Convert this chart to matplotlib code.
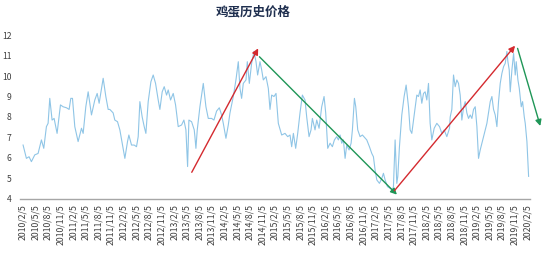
import matplotlib
matplotlib.use("Agg")
from matplotlib import pyplot as plt

plt.rcParams['font.family'] = ['Noto Sans CJK SC', 'DejaVu Sans']

# Monate seit 2010/2/5 und Eierpreis
monate = [0.08, 0.87, 1.5, 2.06, 2.86, 3.65, 4.44, 5.0, 5.63, 6.03, 6.43, 6.98, 7.46, 8.17,
          8.97, 9.6, 10.4, 11.03, 11.43, 11.83, 12.38, 13.17, 13.97, 14.37, 15.0, 15.56,
          16.35, 17.14, 17.7, 18.17, 19.13, 19.76, 20.32, 20.71, 21.5, 21.9, 22.54, 23.1,
          23.65, 24.29, 24.92, 25.24, 25.87, 26.5, 27.06, 27.46, 27.86, 28.41, 28.89, 29.29,
          29.84, 30.48, 31.03, 31.59, 32.22, 32.62, 33.17, 33.65, 34.21, 34.6, 35.16, 35.79,
          36.35, 36.98, 37.78, 38.33, 38.81, 39.21, 39.52, 40.16, 40.79, 40.95, 41.19, 41.51,
          42.14, 42.94, 43.57, 44.13, 44.92, 45.48, 46.11, 46.75, 47.3, 47.7, 48.33, 48.89,
          49.29, 49.68, 50.08, 50.71, 51.27, 51.67, 52.06, 52.46, 53.1, 53.41, 53.89, 54.44,
          55.0, 55.48, 55.87, 56.43, 56.83, 57.22, 57.86, 58.41, 58.81, 59.21, 59.76, 60.24,
          60.79, 61.59, 62.38, 63.02, 63.57, 63.97, 64.37, 64.92, 65.4, 65.95, 66.51, 67.14,
          67.54, 68.1, 68.57, 68.89, 69.52, 69.92, 70.48, 71.11, 71.67, 72.06, 72.54, 73.1,
          73.65, 74.13, 74.68, 75.08, 75.48, 75.87, 76.27, 76.67, 77.06, 77.62, 78.1, 78.41,
          78.89, 79.21, 79.68, 80.24, 80.79, 81.83, 82.46, 83.02, 83.41, 83.81, 84.21, 84.84,
          85.4, 85.79, 86.19, 86.75, 87.38, 87.94, 88.17, 88.57, 88.97, 89.21, 89.6, 90.16,
          90.71, 91.19, 91.75, 92.14, 92.54, 92.94, 93.33, 93.73, 94.13, 94.52, 94.92, 95.32,
          95.71, 96.11, 96.51, 96.9, 97.3, 97.86, 98.49, 99.13, 99.68, 100.24, 100.87, 101.51,
          101.67, 102.06, 102.46, 102.86, 103.25, 103.65, 104.05, 104.44, 104.84, 105.24,
          105.63, 106.03, 106.43, 106.83, 107.22, 107.62, 108.02, 108.41, 108.81, 109.21,
          109.6, 110.0, 110.4, 110.79, 111.19, 111.59, 111.98, 112.38, 112.78, 113.17, 113.57,
          113.97, 114.37, 114.76, 115.16, 115.4, 115.71, 115.95, 116.35, 116.75, 117.14,
          117.38, 117.78, 118.1, 118.57, 118.89, 119.29, 119.52, 119.92, 120.32]
preis = [6.63, 5.98, 6.06, 5.82, 6.15, 6.22, 6.88, 6.47, 7.53, 7.69, 8.91, 7.85, 7.93, 7.2,
         8.59, 8.5, 8.45, 8.37, 8.91, 8.91, 7.53, 6.8, 7.45, 7.2, 8.5, 9.23,
         8.1, 8.83, 9.15, 8.67, 9.89, 9.0, 8.37, 8.37, 8.2, 7.85, 7.77, 7.37,
         6.72, 5.98, 6.8, 7.12, 6.63, 6.63, 6.55, 7.04, 8.75, 8.0, 7.53, 7.2,
         8.75, 9.72, 10.05, 9.64, 8.83, 8.37, 9.23, 9.48, 9.07, 9.32, 8.83, 9.15,
         8.59, 7.53, 7.61, 7.85, 7.37, 5.58, 7.85, 7.77, 7.37, 7.04, 6.47, 7.37,
         8.5, 9.64, 8.5, 7.93, 7.93, 7.85, 8.29, 8.45, 8.1, 7.69, 6.96, 7.61,
         8.2, 8.59, 9.0, 9.81, 10.7, 9.4, 8.91, 9.64, 9.81, 10.7, 9.64, 10.62,
         11.2, 10.7, 10.05, 10.7, 10.3, 9.81, 9.97, 9.4, 8.37, 9.07, 9.0, 9.15,
         7.69, 7.12, 7.2, 7.04, 7.12, 6.55, 7.2, 6.47, 7.2, 8.2, 9.07, 8.83,
         8.0, 7.04, 7.37, 7.93, 7.37, 7.85, 7.45, 8.5, 9.0, 8.2, 6.47, 6.72,
         6.55, 6.88, 7.04, 6.88, 7.12, 6.72, 6.88, 5.98, 6.63, 6.39, 6.72, 7.37,
         8.91, 8.5, 7.37, 7.04, 7.12, 6.88, 6.55, 6.22, 6.06, 5.41, 4.93, 4.76,
         5.0, 5.25, 4.93, 4.6, 4.52, 4.44, 4.6, 6.88, 4.76, 5.1, 6.55, 8.1,
         9.0, 9.56, 8.5, 7.37, 7.2, 7.85, 8.45, 9.07, 9.0, 9.32, 8.67, 9.15,
         9.23, 8.83, 9.64, 7.69, 6.88, 7.45, 7.69, 7.53, 7.2, 7.37, 7.04, 7.45,
         8.0, 8.37, 10.05, 9.48, 9.81, 9.64, 9.07, 7.85, 8.45, 8.75,
         8.2, 7.93, 8.1, 7.93, 8.37, 8.5, 7.53, 5.98, 6.39, 6.72,
         7.04, 7.37, 7.69, 8.2, 8.75, 9.0, 8.37, 8.1, 7.53, 8.75, 9.64,
         10.13, 10.46, 10.62, 11.2, 10.7, 10.3, 9.23, 10.3, 11.1, 10.05,
         10.7, 9.81, 9.4, 8.5, 8.75, 8.0, 7.69, 6.8, 5.1]

# Achsenbeschriftung: alle drei Monate ab 2010/2/5
tick_monate = list(range(0, 121, 3))
tick_labels = [f"{2010 + (1 + m) // 12}/{(1 + m) % 12 + 1}/5" for m in tick_monate]
y_ticks = [4, 5, 6, 7, 8, 9, 10, 11, 12]

# Trendpfeile: (start_monat, start_preis, end_monat, end_preis, farbe)
pfeile = [(40.2, 5.3, 56.0, 11.35, "#d42a2f"),
          (56.3, 10.94, 89.0, 4.21, "#1f9657"),
          (88.4, 4.4, 117.1, 11.48, "#d42a2f"),
          (117.7, 11.35, 123.1, 7.56, "#1f9657")]

fig = plt.figure(figsize=(5.5, 2.56), dpi=100)
ax = fig.add_axes([0.036, 0.223, 0.928, 0.64])

ax.plot(monate, preis, color="#8fc5e6", lw=0.8)

for x0, y0, x1, y1, farbe in pfeile:
    ax.annotate("", xy=(x1, y1), xytext=(x0, y0), annotation_clip=False,
                arrowprops=dict(arrowstyle="-|>", color=farbe, lw=1.0,
                                mutation_scale=9, shrinkA=0, shrinkB=0))

ax.set_xlim(-0.7, 120.7)
ax.set_ylim(4, 12)
ax.set_xticks(tick_monate)
ax.set_xticklabels(tick_labels, rotation=90, fontsize=6.3, color="#404040")
ax.set_yticks(y_ticks)
ax.set_yticklabels([str(v) for v in y_ticks], fontsize=6.2, color="#404040")
ax.tick_params(length=0)
ax.tick_params(axis="x", pad=4)
ax.tick_params(axis="y", pad=6)

for seite in ["left", "right", "top"]:
    ax.spines[seite].set_visible(False)
ax.spines["bottom"].set_color("#a6a6a6")
ax.spines["bottom"].set_linewidth(1.0)

fig.text(0.46, 0.953, "鸡蛋历史价格", ha="center", va="center",
         fontsize=9, fontweight="bold", color="#1f2f4f")

fig.savefig("out.png", dpi=100)
